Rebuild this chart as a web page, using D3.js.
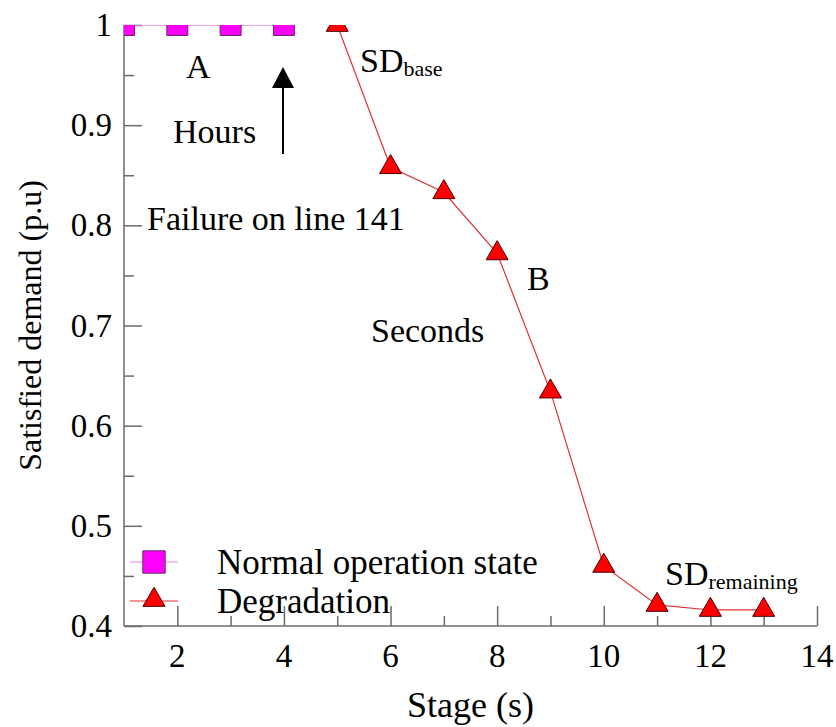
<!DOCTYPE html>
<html>
<head>
<meta charset="utf-8">
<script src="https://cdn.jsdelivr.net/npm/d3@7"></script>
<style>
  body { margin: 0; background: #fff; }
  text { font-family: "Liberation Serif", "Times New Roman", serif; fill: #000; }
</style>
</head>
<body>
<svg id="chart" width="836" height="727"></svg>
<script>
// data
var normalStages = [1, 2, 3, 4];
var normalValues = [1, 1, 1, 1];
var degradStages = [5, 6, 7, 8, 9, 10, 11, 12, 13];
var degradValues = [1.0, 0.858, 0.833, 0.772, 0.634, 0.460, 0.421, 0.416, 0.416];
var xTicks = [2, 4, 6, 8, 10, 12, 14];
var yTicks = [0.4, 0.5, 0.6, 0.7, 0.8, 0.9, 1];
var legendNames = ["Normal operation state", "Degradation"];

(function() {
var svg = d3.select("#chart");
var plotLeft = 124, plotRight = 817, plotTop = 25, plotBottom = 626;

var x = d3.scaleLinear().domain([1, 14]).range([plotLeft, plotRight]);
var y = d3.scaleLinear().domain([0.4, 1]).range([plotBottom, plotTop]);

var axisColor = "#6b6b6b";

// clip for plotted marks
svg.append("defs").append("clipPath").attr("id", "plotclip")
  .append("rect").attr("x", plotLeft).attr("y", plotTop)
  .attr("width", plotRight - plotLeft).attr("height", plotBottom - plotTop);

// x axis, ticks pointing inward
var xAxis = svg.append("g").attr("transform", "translate(0," + plotBottom + ")")
  .call(d3.axisTop(x).tickValues(d3.range(2, 15, 1)).tickSize(10).tickFormat(""));
xAxis.selectAll(".tick line").attr("y2", function(d) { return d % 2 == 0 ? -20 : -10; });
xAxis.selectAll("line, path").attr("stroke", axisColor).attr("stroke-width", 1.5);
xAxis.select(".domain").attr("d", "M" + plotLeft + ",0H" + plotRight);

svg.append("g").selectAll("text").data(xTicks).enter().append("text")
  .attr("x", function(d) { return x(d); })
  .attr("y", plotBottom + 41)
  .attr("text-anchor", "middle")
  .style("font-size", "33px")
  .text(function(d) { return d; });

// y axis
var yAxis = svg.append("g").attr("transform", "translate(" + plotLeft + ",0)")
  .call(d3.axisRight(y).tickValues(d3.range(0.4, 1.001, 0.05)).tickSize(10).tickFormat(""));
yAxis.selectAll(".tick line").attr("x2", function(d) {
  return Math.round(d * 20) % 2 == 0 ? 18 : 10;
});
yAxis.selectAll("line, path").attr("stroke", axisColor).attr("stroke-width", 1.5);
yAxis.select(".domain").attr("d", "M0," + plotTop + "V" + plotBottom);

svg.append("g").selectAll("text").data(yTicks).enter().append("text")
  .attr("x", plotLeft - 12)
  .attr("y", function(d) { return y(d) + 11; })
  .attr("text-anchor", "end")
  .style("font-size", "33px")
  .text(function(d) { return d == 1 ? "1" : d.toFixed(1); });

// axis titles
svg.append("text")
  .attr("x", (plotLeft + plotRight) / 2).attr("y", 717)
  .attr("text-anchor", "middle")
  .style("font-size", "36px")
  .text("Stage (s)");

svg.append("text")
  .attr("transform", "translate(41," + (plotTop + plotBottom) / 2 + ") rotate(-90)")
  .attr("text-anchor", "middle")
  .style("font-size", "32px")
  .text("Satisfied demand (p.u)");

// series
var plot = svg.append("g").attr("clip-path", "url(#plotclip)");

var normal = normalStages.map(function(s, i) { return { s: s, v: normalValues[i] }; });
var degrad = degradStages.map(function(s, i) { return { s: s, v: degradValues[i] }; });

var line = d3.line().x(function(d) { return x(d.s); }).y(function(d) { return y(d.v); });

plot.append("path").datum(normal)
  .attr("d", line).attr("fill", "none")
  .attr("stroke", "#f080f0").attr("stroke-width", 1.5);

plot.append("path").datum(degrad)
  .attr("d", line).attr("fill", "none")
  .attr("stroke", "#e03030").attr("stroke-width", 1.2);

var squareSym = d3.symbol().type(d3.symbolSquare).size(441);
var triSym = d3.symbol().type(d3.symbolTriangle).size(210);

plot.selectAll(".sq").data(normal).enter().append("path")
  .attr("class", "sq")
  .attr("d", squareSym)
  .attr("transform", function(d) { return "translate(" + x(d.s) + "," + y(d.v) + ")"; })
  .attr("fill", "#ff00ff").attr("stroke", "#6a2a6a").attr("stroke-width", 1);

plot.selectAll(".tri").data(degrad).enter().append("path")
  .attr("class", "tri")
  .attr("d", triSym)
  .attr("transform", function(d) { return "translate(" + x(d.s) + "," + y(d.v) + ")"; })
  .attr("fill", "#ff0000").attr("stroke", "#4a0000").attr("stroke-width", 1);

// legend
var legend = svg.append("g");
var legendY = [562, 601];
legend.selectAll("line").data(legendNames).enter().append("line")
  .attr("x1", 130).attr("x2", 178)
  .attr("y1", function(d, i) { return legendY[i]; })
  .attr("y2", function(d, i) { return legendY[i]; })
  .attr("stroke", function(d, i) { return i == 0 ? "#f080f0" : "#e03030"; })
  .attr("stroke-width", 1.2);
legend.append("path").attr("d", d3.symbol().type(d3.symbolSquare).size(500))
  .attr("transform", "translate(154," + legendY[0] + ")")
  .attr("fill", "#ff00ff").attr("stroke", "#6a2a6a");
legend.append("path").attr("d", triSym)
  .attr("transform", "translate(154," + (legendY[1] - 1) + ")")
  .attr("fill", "#ff0000").attr("stroke", "#4a0000");
legend.selectAll("text").data(legendNames).enter().append("text")
  .attr("x", 217)
  .attr("y", function(d, i) { return legendY[i] + 12; })
  .style("font-size", "35px")
  .text(function(d) { return d; });

// annotations
function note(tx, ty, str) {
  return svg.append("text").attr("x", tx).attr("y", ty)
    .style("font-size", "34px").text(str);
}
note(186, 78, "A");
note(173, 143, "Hours");
note(147, 230, "Failure on line 141");
note(527, 290, "B");
note(371, 342, "Seconds");

var sdBase = note(360, 72, "SD");
sdBase.append("tspan").attr("dy", 4).style("font-size", "22px").text("base");
var sdRem = note(665, 585, "SD");
sdRem.append("tspan").attr("dy", 4).style("font-size", "22px").text("remaining");

// arrow pointing up at the failure
svg.append("line")
  .attr("x1", 283).attr("x2", 283).attr("y1", 154).attr("y2", 84)
  .attr("stroke", "#000").attr("stroke-width", 2);
svg.append("path")
  .attr("d", "M283,67L294,88L272,88Z")
  .attr("fill", "#000");
})();
</script>
</body>
</html>
